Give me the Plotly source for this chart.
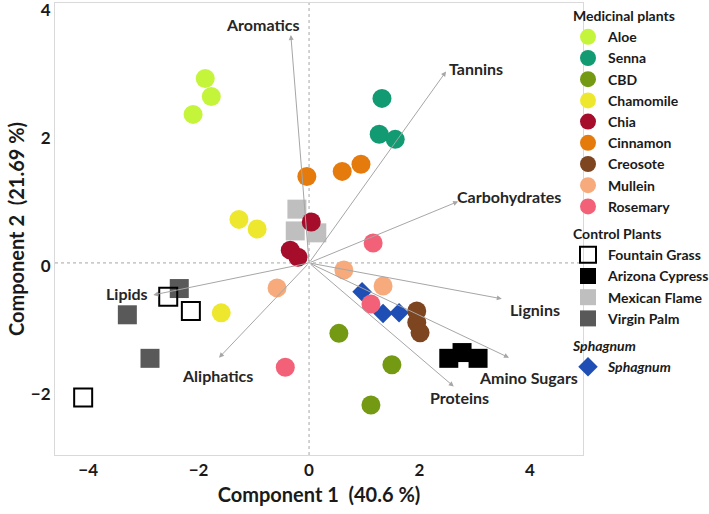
import plotly.graph_objects as go

# ---------------- data ----------------
aloe_x = [-1.88, -1.77, -2.10]; aloe_y = [2.88, 2.60, 2.32]
senna_x = [1.32, 1.27, 1.56]; senna_y = [2.57, 2.01, 1.93]
cbd_x = [0.54, 1.50, 1.12]; cbd_y = [-1.10, -1.59, -2.22]
chamomile_x = [-1.27, -0.94, -1.59]; chamomile_y = [0.68, 0.53, -0.78]
chia_x = [0.04, -0.34, -0.20]; chia_y = [0.64, 0.20, 0.09]
cinnamon_x = [-0.04, 0.60, 0.94]; cinnamon_y = [1.35, 1.43, 1.54]
creosote_x = [1.95, 1.95, 2.01]; creosote_y = [-0.75, -0.93, -1.09]
mullein_x = [0.63, -0.58, 1.34]; mullein_y = [-0.11, -0.39, -0.36]
rosemary_x = [1.16, 1.12, -0.43]; rosemary_y = [0.31, -0.64, -1.63]

fountain_x = [-2.55, -2.14, -4.09]; fountain_y = [-0.53, -0.75, -2.10]
cypress_x = [2.53, 2.77, 3.06]; cypress_y = [-1.49, -1.40, -1.49]
flame_x = [-0.22, -0.25, 0.14]; flame_y = [0.84, 0.50, 0.47]
palm_x = [-2.35, -3.29, -2.88]; palm_y = [-0.40, -0.81, -1.49]

sphagnum_x = [0.96, 1.34, 1.63]; sphagnum_y = [-0.45, -0.79, -0.78]

loading_names = ["Aromatics", "Tannins", "Carbohydrates", "Lignins",
                 "Amino Sugars", "Proteins", "Lipids", "Aliphatics"]
loading_x = [-0.33, 2.48, 2.70, 3.49, 3.62, 2.62, -2.82, -1.63]
loading_y = [3.56, 2.99, 0.96, -0.56, -1.48, -1.93, -0.50, -1.48]

x_ticks = [-4, -2, 0, 2, 4]
y_ticks = [-2, 0, 2, 4]

FONT = "Lato"
LEG = 14
fig = go.Figure()

def add(name, xs, ys, color, rank, group, gtitle, symbol="circle", size=19,
        line_color=None, line_width=0, gfont=None):
    fig.add_trace(go.Scatter(
        x=xs, y=ys, mode="markers", name=name,
        legendgroup=group, legendrank=rank,
        legendgrouptitle=dict(text=gtitle, font=gfont or dict(family=FONT, size=LEG, weight="bold", color="#1a1a1a")),
        marker=dict(symbol=symbol, size=size, color=color,
                    line=dict(color=line_color or color, width=line_width)),
    ))

# drawing order (bottom -> top), legend order set by rank
add("Mexican Flame", flame_x, flame_y, "#bfbfbf", 12, "ctrl", "Control Plants", symbol="square", size=19)
add("Virgin Palm", palm_x, palm_y, "#595959", 13, "ctrl", "Control Plants", symbol="square", size=19)
add("Fountain Grass", fountain_x, fountain_y, "rgba(255,255,255,0)", 10, "ctrl", "Control Plants",
    symbol="square", size=18, line_color="#000000", line_width=2)
add("Arizona Cypress", cypress_x, cypress_y, "#000000", 11, "ctrl", "Control Plants", symbol="square", size=19)
add("<i>Sphagnum</i>", sphagnum_x, sphagnum_y, "#1f4eb4", 14, "sph", "Sphagnum", symbol="diamond", size=15,
    gfont=dict(family=FONT, size=LEG, weight="bold", style="italic", color="#1a1a1a"))
add("CBD", cbd_x, cbd_y, "#739a12", 3, "med", "Medicinal plants")
add("Creosote", creosote_x, creosote_y, "#7d4520", 7, "med", "Medicinal plants")
add("Mullein", mullein_x, mullein_y, "#f7ab7c", 8, "med", "Medicinal plants")
add("Rosemary", rosemary_x, rosemary_y, "#f26178", 9, "med", "Medicinal plants")
add("Aloe", aloe_x, aloe_y, "#c5f53b", 1, "med", "Medicinal plants")
add("Senna", senna_x, senna_y, "#129a72", 2, "med", "Medicinal plants")
add("Chamomile", chamomile_x, chamomile_y, "#ede82e", 4, "med", "Medicinal plants")
add("Chia", chia_x, chia_y, "#a50d2b", 5, "med", "Medicinal plants")
add("Cinnamon", cinnamon_x, cinnamon_y, "#e57b0c", 6, "med", "Medicinal plants")

annotations = []
for nm, lx, ly in zip(loading_names, loading_x, loading_y):
    annotations.append(dict(x=lx, y=ly, ax=0, ay=0, xref="x", yref="y", axref="x", ayref="y",
                            showarrow=True, arrowhead=2, arrowsize=1, arrowwidth=1,
                            arrowcolor="#a6a6a6", text=""))

label_pos = {
    "Aromatics": (-0.85, 3.73, "center"),
    "Tannins": (2.50, 3.03, "left"),
    "Carbohydrates": (2.64, 1.04, "left"),
    "Lignins": (3.60, -0.73, "left"),
    "Amino Sugars": (3.04, -1.79, "left"),
    "Proteins": (2.15, -2.10, "left"),
    "Lipids": (-3.29, -0.47, "center"),
    "Aliphatics": (-1.65, -1.76, "center"),
}
for nm in loading_names:
    px, py, anc = label_pos[nm]
    annotations.append(dict(x=px, y=py, xref="x", yref="y", text=nm, showarrow=False,
                            xanchor=anc, yanchor="middle",
                            font=dict(family=FONT, size=16, weight="bold", color="#262626")))

shapes = [
    dict(type="line", xref="x", yref="paper", x0=0, x1=0, y0=0, y1=1,
         line=dict(color="#a6a6a6", width=1, dash="dot"), layer="below"),
    dict(type="line", xref="paper", yref="y", x0=0, x1=1, y0=0, y1=0,
         line=dict(color="#a6a6a6", width=1, dash="dot"), layer="below"),
]

fig.update_layout(
    width=709, height=514,
    margin=dict(l=55, r=126, t=3, b=59, autoexpand=False),
    plot_bgcolor="white", paper_bgcolor="white",
    font=dict(family=FONT, color="#1a1a1a"),
    annotations=annotations, shapes=shapes,
    legend=dict(xref="container", yref="container", x=568/709, y=1 - 0/514,
                xanchor="left", yanchor="top", bgcolor="rgba(0,0,0,0)",
                font=dict(family=FONT, size=LEG, weight="bold", color="#1a1a1a"),
                tracegroupgap=6, itemwidth=30, maxheight=514),
    xaxis=dict(range=[-4.60, 4.96], tickvals=x_ticks, showgrid=False, zeroline=False,
               showline=True, mirror=True, linecolor="#d9d9d9", linewidth=1,
               ticklabeloverflow="allow",
               tickfont=dict(family=FONT, size=17, weight="bold", color="#1a1a1a"),
               title=dict(text="Component 1\u00a0 (40.6 %)", standoff=8,
                          font=dict(family=FONT, size=20, weight="bold", color="#1a1a1a"))),
    yaxis=dict(range=[-3.0, 4.06], tickvals=y_ticks, showgrid=False, zeroline=False,
               showline=True, mirror=True, linecolor="#d9d9d9", linewidth=1,
               ticklabeloverflow="allow", ticklabelshift=3,
               tickfont=dict(family=FONT, size=17, weight="bold", color="#1a1a1a"),
               title=dict(text="Component 2\u00a0 (21.69 %)", standoff=0,
                          font=dict(family=FONT, size=20, weight="bold", color="#1a1a1a"))),
)

fig.write_html("out.html", config={"displayModeBar": False},
               post_script="document.body.style.margin='0';document.body.style.overflow='hidden';")
